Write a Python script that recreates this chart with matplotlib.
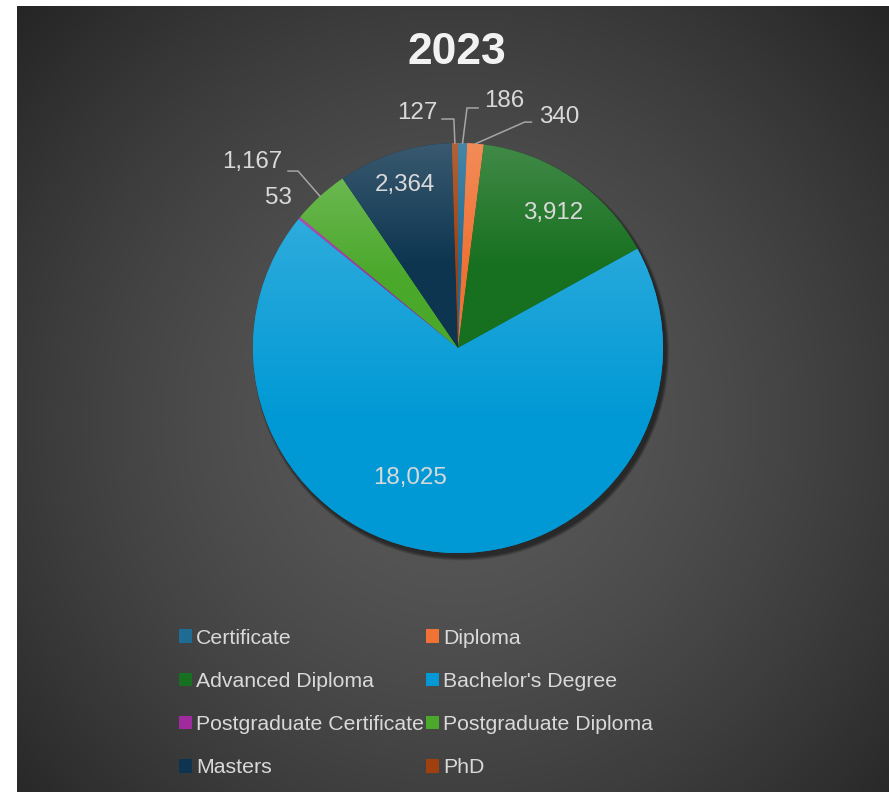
import matplotlib.pyplot as plt
from matplotlib.patches import Patch, Circle
import matplotlib.colors as mcolors
import numpy as np

plt.rcParams['font.family'] = ['Liberation Sans', 'DejaVu Sans']

title = '2023'
categories = ['Certificate', 'Diploma', 'Advanced Diploma', "Bachelor's Degree",
              'Postgraduate Certificate', 'Postgraduate Diploma', 'Masters', 'PhD']
values = [186, 340, 3912, 18025, 53, 1167, 2364, 127]
colors = ['#1e6b93', '#f07234', '#17701f', '#0099d5',
          '#a12a9f', '#4aa82a', '#0d3550', '#a0400f']

# label placement (data units, pie radius = 1); None -> no leader line
inside = {2: (0.463, 0.659), 3: (-0.234, -0.634), 6: (-0.259, 0.795)}
outside = {
    7: ((-0.200, 1.146), [(-0.078, 1.117), (-0.020, 1.117)]),
    0: ((0.224, 1.205), [(0.098, 1.171), (0.044, 1.171)]),
    1: ((0.492, 1.127), [(0.358, 1.102), (0.325, 1.102)]),
    5: ((-1.005, 0.907), [(-0.829, 0.863), (-0.780, 0.863)]),
    4: ((-0.878, 0.732), None),
}

W, H = 889, 792
fig = plt.figure(figsize=(W / 100, H / 100), dpi=100, facecolor='white')

# background with radial gradient
bg = fig.add_axes([17 / W, 0, 1 - 17 / W, (H - 6) / H])
bg.set_axis_off()
yy, xx = np.mgrid[6:H, 17:W]
r = np.sqrt((xx - 455) ** 2 + (yy - 420) ** 2) / 600
t = np.clip(r, 0, 1) ** 1.5
shade = (90 - 53 * t) / 255
bg.imshow(np.dstack([shade, shade, shade]), aspect='auto', extent=(0, 1, 0, 1),
          interpolation='bilinear')

ax = fig.add_axes([(458 - 205) / W, (H - 348 - 205) / H, 410 / W, 410 / H])
ax.set_axis_off()

# soft shadow, bottom right
for k in range(6):
    ax.add_patch(Circle((0.015, -0.022), 1.0 + 0.003 * k, color='black',
                        alpha=0.1, lw=0, zorder=0, clip_on=False))

wedges, _ = ax.pie(values, colors=colors, startangle=90, counterclock=False,
                   radius=1, wedgeprops=dict(linewidth=0))

# vertical gradient on each wedge, lighter at top
for w, c in zip(wedges, colors):
    base = np.array(mcolors.to_rgb(c))
    top = base + (1 - base) * 0.18
    ext = w.get_path().get_extents()
    s = np.clip(np.linspace(0, 1, 100) / 0.6, 0, 1)[:, None]
    grad = top * (1 - s) + base * s
    img = ax.imshow(np.repeat(grad[:, None, :], 2, axis=1), aspect='auto',
                    extent=(ext.x0, ext.x1, ext.y0, ext.y1), zorder=2,
                    interpolation='bilinear')
    img.set_clip_path(w)

ax.set_xlim(-1, 1)
ax.set_ylim(-1, 1)

lab_col = '#d9d9d9'
for i, pos in inside.items():
    ax.text(pos[0], pos[1], f'{values[i]:,}', color=lab_col, fontsize=17.4,
            ha='center', va='center', zorder=5)

for i, (pos, leader) in outside.items():
    ax.text(pos[0], pos[1], f'{values[i]:,}', color=lab_col, fontsize=17.4,
            ha='center', va='center', zorder=5, clip_on=False)
    if leader is not None:
        w = wedges[i]
        mid = np.deg2rad((w.theta1 + w.theta2) / 2)
        px, py = np.cos(mid), np.sin(mid)
        xs = [p[0] for p in leader] + [px]
        ys = [p[1] for p in leader] + [py]
        ax.plot(xs, ys, color='#a6a6a6', lw=1.1, clip_on=False, zorder=4)

fig.text(457 / W, 1 - 53 / H, title, fontsize=32, fontweight='bold',
         color='#f2f2f2', ha='center', va='center')

order = [0, 2, 4, 6, 1, 3, 5, 7]
handles = [Patch(facecolor=colors[i], edgecolor='none') for i in order]
labels = [categories[i] for i in order]
fig.legend(handles, labels, ncol=2, loc='center', frameon=False,
           bbox_to_anchor=(416 / W, 1 - 703 / H), fontsize=15.3,
           labelcolor=lab_col, handlelength=0.6, handleheight=0.6,
           handletextpad=0.2, columnspacing=0.08, labelspacing=1.14,
           borderpad=0)

fig.savefig('out.png', dpi=100, facecolor='white')
